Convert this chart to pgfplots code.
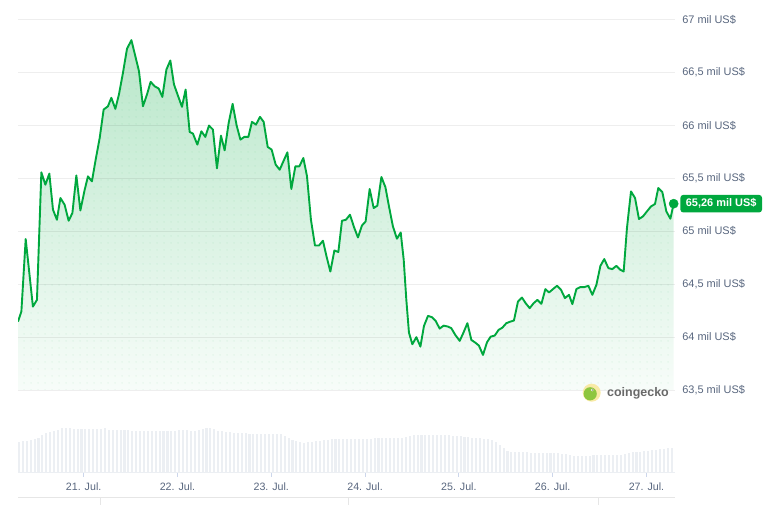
\documentclass[border=0pt]{standalone}
\usepackage{pgfplots}
\pgfplotsset{compat=1.18}
\usepackage{pgfplotstable}
\usepackage{fontspec}
\setmainfont{Liberation Sans}
\usetikzlibrary{patterns.meta}
\definecolor{cgreen}{RGB}{0,168,62}
\definecolor{lblgray}{RGB}{88,102,126}
\definecolor{volgray}{RGB}{236,239,243}
\definecolor{tickgray}{RGB}{204,214,235}
\definecolor{navgray}{RGB}{230,230,230}
\definecolor{logoyellow}{RGB}{248,234,165}
\definecolor{logogreen}{RGB}{141,198,63}
\definecolor{cgtext}{RGB}{105,105,105}

\tikzdeclarepattern{
  name=gdots,
  type=uncolored,
  bottom left={(0bp,0bp)},
  top right={(7bp,7bp)},
  tile size={(7bp,7bp)},
  code={\fill (3.5bp,3.5bp) circle (0.9bp);}
}

\pgfplotstableread{
d v
20.300 64.146
20.336 64.241
20.382 64.926
20.459 64.288
20.502 64.351
20.549 65.556
20.592 65.439
20.634 65.544
20.673 65.203
20.715 65.108
20.752 65.314
20.797 65.250
20.840 65.099
20.880 65.172
20.922 65.527
20.965 65.196
21.011 65.392
21.046 65.518
21.088 65.471
21.128 65.676
21.171 65.881
21.213 66.149
21.259 66.180
21.295 66.260
21.338 66.156
21.376 66.291
21.419 66.496
21.462 66.723
21.509 66.805
21.551 66.653
21.590 66.511
21.632 66.180
21.675 66.291
21.714 66.411
21.757 66.369
21.800 66.348
21.839 66.269
21.882 66.527
21.924 66.613
21.963 66.386
22.005 66.281
22.048 66.175
22.087 66.338
22.130 65.938
22.165 65.922
22.212 65.818
22.255 65.944
22.297 65.891
22.336 65.998
22.378 65.960
22.421 65.594
22.464 65.903
22.503 65.764
22.546 66.023
22.588 66.203
22.631 65.998
22.671 65.865
22.713 65.891
22.756 65.891
22.794 66.033
22.837 66.007
22.880 66.080
22.919 66.033
22.962 65.796
23.004 65.771
23.047 65.629
23.090 65.581
23.132 65.666
23.172 65.745
23.214 65.399
23.257 65.613
23.300 65.613
23.342 65.692
23.381 65.518
23.423 65.108
23.466 64.865
23.509 64.865
23.551 64.910
23.591 64.755
23.630 64.619
23.673 64.818
23.715 64.803
23.754 65.099
23.796 65.108
23.839 65.156
23.882 65.039
23.924 64.941
23.967 65.054
24.006 65.092
24.049 65.399
24.092 65.219
24.131 65.241
24.174 65.512
24.217 65.416
24.255 65.234
24.297 65.045
24.340 64.929
24.380 64.988
24.412 64.730
24.440 64.351
24.468 64.042
24.504 63.932
24.547 63.999
24.590 63.910
24.628 64.105
24.671 64.200
24.713 64.188
24.753 64.153
24.795 64.080
24.838 64.108
24.884 64.099
24.919 64.084
24.962 64.020
25.009 63.964
25.051 64.046
25.091 64.131
25.133 63.973
25.176 63.947
25.214 63.919
25.257 63.831
25.300 63.951
25.339 64.004
25.382 64.014
25.424 64.068
25.464 64.089
25.506 64.131
25.549 64.146
25.587 64.156
25.630 64.335
25.673 64.373
25.712 64.320
25.755 64.273
25.797 64.320
25.837 64.351
25.880 64.314
25.922 64.453
25.961 64.421
26.003 64.453
26.046 64.484
26.089 64.446
26.131 64.368
26.174 64.399
26.210 64.311
26.253 64.453
26.295 64.472
26.337 64.472
26.381 64.484
26.423 64.399
26.466 64.493
26.509 64.673
26.550 64.737
26.594 64.651
26.636 64.642
26.679 64.673
26.722 64.635
26.757 64.619
26.792 65.030
26.835 65.376
26.878 65.314
26.920 65.115
26.963 65.140
27.005 65.187
27.048 65.234
27.091 65.257
27.126 65.408
27.169 65.370
27.212 65.187
27.255 65.118
27.290 65.260
}\price

\pgfplotstableread{
h
30
30.5
31
32
32.5
34
37
39
40
41
42
43.5
44
43.5
43
43
42.5
42.5
42.5
42.5
43
43
43.5
42
41.5
42
41.5
41.5
42
41
41
40.5
40.5
40.5
40.5
41
41
41
40.5
40.5
41
41.5
41.5
41.5
41
41
41.5
43
43.5
43.5
42.5
41
40.5
40
39.5
39
38.5
38.5
38.5
38
38
38
38
38
37.5
37.5
37.5
37.5
36
34
32
30.5
29.5
29
29.5
30
30.5
31
31.5
32
32.5
32.5
33
33
33
33
33
33
33
33
33
33.5
33.5
33.5
34
34
34
33.5
34
35
36
36.5
37
37
37
37
37
36.5
36.5
36.5
36.5
36
36
35.5
35
34.5
34
33.5
33.5
33
33
32
30
27
24
21
20
19.5
19.5
19.5
19.5
19
19
19
19
19
19
18.5
18.5
18
17.5
16.5
16
15.5
15.5
16
16
16.5
16.5
17
17
17
17
17
17
18
19
19.5
20
20
20.5
21
21.5
22
22.5
23
23.5
24
}\volume

\begin{document}
\begin{tikzpicture}[x=1bp,y=1bp]
\path[use as bounding box] (0,0) rectangle (784,505);

% volume axis
\begin{axis}[
  at={(18bp,33bp)}, anchor=south west,
  scale only axis, width=656.6bp, height=44bp,
  xmin=20.30, xmax=27.30, ymin=0, ymax=44,
  axis x line*=bottom, axis y line=none,
  x axis line style={draw=volgray, line width=0.8bp},
  xtick={21,22,23,24,25,26,27},
  xticklabels={21. Jul.,22. Jul.,23. Jul.,24. Jul.,25. Jul.,26. Jul.,27. Jul.},
  xtick align=outside, major tick length=5bp,
  xtick style={draw=tickgray, line width=0.8bp},
  xticklabel style={font=\fontsize{10.7}{12}\selectfont, text=lblgray, inner sep=0pt, yshift=-5.5bp},
  ytick=\empty,
]
\addplot[ycomb, draw=volgray, line width=2.1bp] table[x expr={20.31+\coordindex/24}, y=h] {\volume};
\end{axis}

% price axis
\begin{axis}[
  at={(18bp,115bp)}, anchor=south west,
  scale only axis, width=656.6bp, height=370.5bp,
  xmin=20.30, xmax=27.30, ymin=63.5, ymax=67,
  axis line style={draw=none},
  xtick=\empty,
  ytick={63.5,64,64.5,65,65.5,66,66.5,67},
  yticklabels={{63,5 mil US\$},{64 mil US\$},{64,5 mil US\$},{65 mil US\$},{65,5 mil US\$},{66 mil US\$},{66,5 mil US\$},{67 mil US\$}},
  yticklabel pos=right,
  major tick length=0pt,
  ymajorgrids,
  grid style={draw=black, draw opacity=0.065, line width=0.9bp},
  axis on top,
  yticklabel style={anchor=west, inner sep=0pt, xshift=7.5bp, font=\fontsize{11}{13}\selectfont, text=lblgray},
]
\addplot[draw=none, top color=cgreen!28!white, bottom color=cgreen!3!white]
  table[x=d,y=v]{\price} |- (axis cs:20.30,63.5) -- cycle;
\addplot[draw=none, pattern=gdots, pattern color=cgreen, fill opacity=0.08]
  table[x=d,y=v]{\price} |- (axis cs:20.30,63.5) -- cycle;
\addplot[cgreen, line width=1.9bp, line join=round] table[x=d,y=v]{\price};
\addplot[only marks, mark=*, mark size=4.6bp, cgreen] coordinates {(27.29,65.26)};
\coordinate (endpt) at (axis cs:27.29,65.26);
\end{axis}

\node[fill=cgreen, text=white, rounded corners=3bp, anchor=west, inner xsep=5.5bp, inner ysep=3.8bp,
      text height=8bp, text depth=2bp, font=\bfseries\fontsize{11}{13}\selectfont]
  at ([xshift=6.5bp]endpt) {65,26 mil US\$};

% coingecko watermark
\fill[logoyellow] (591.7,112.3) circle (9bp);
\fill[logogreen] (590.2,111.2) circle (6.6bp);
\fill[white] (592.2,115.0) circle (1.4bp);
\fill[black!70] (592.5,115.0) circle (0.6bp);
\node[anchor=base west, inner sep=0pt, font=\bfseries\fontsize{12.5}{14}\selectfont, text=cgtext] at (607,108.5) {coingecko};

% navigator outline
\draw[navgray, line width=1bp] (18,7) -- (675,7);
\draw[navgray, line width=1bp] (100,7) -- (100,0);
\draw[navgray, line width=1bp] (348,7) -- (348,0);
\draw[navgray, line width=1bp] (598,7) -- (598,0);
\end{tikzpicture}
\end{document}
